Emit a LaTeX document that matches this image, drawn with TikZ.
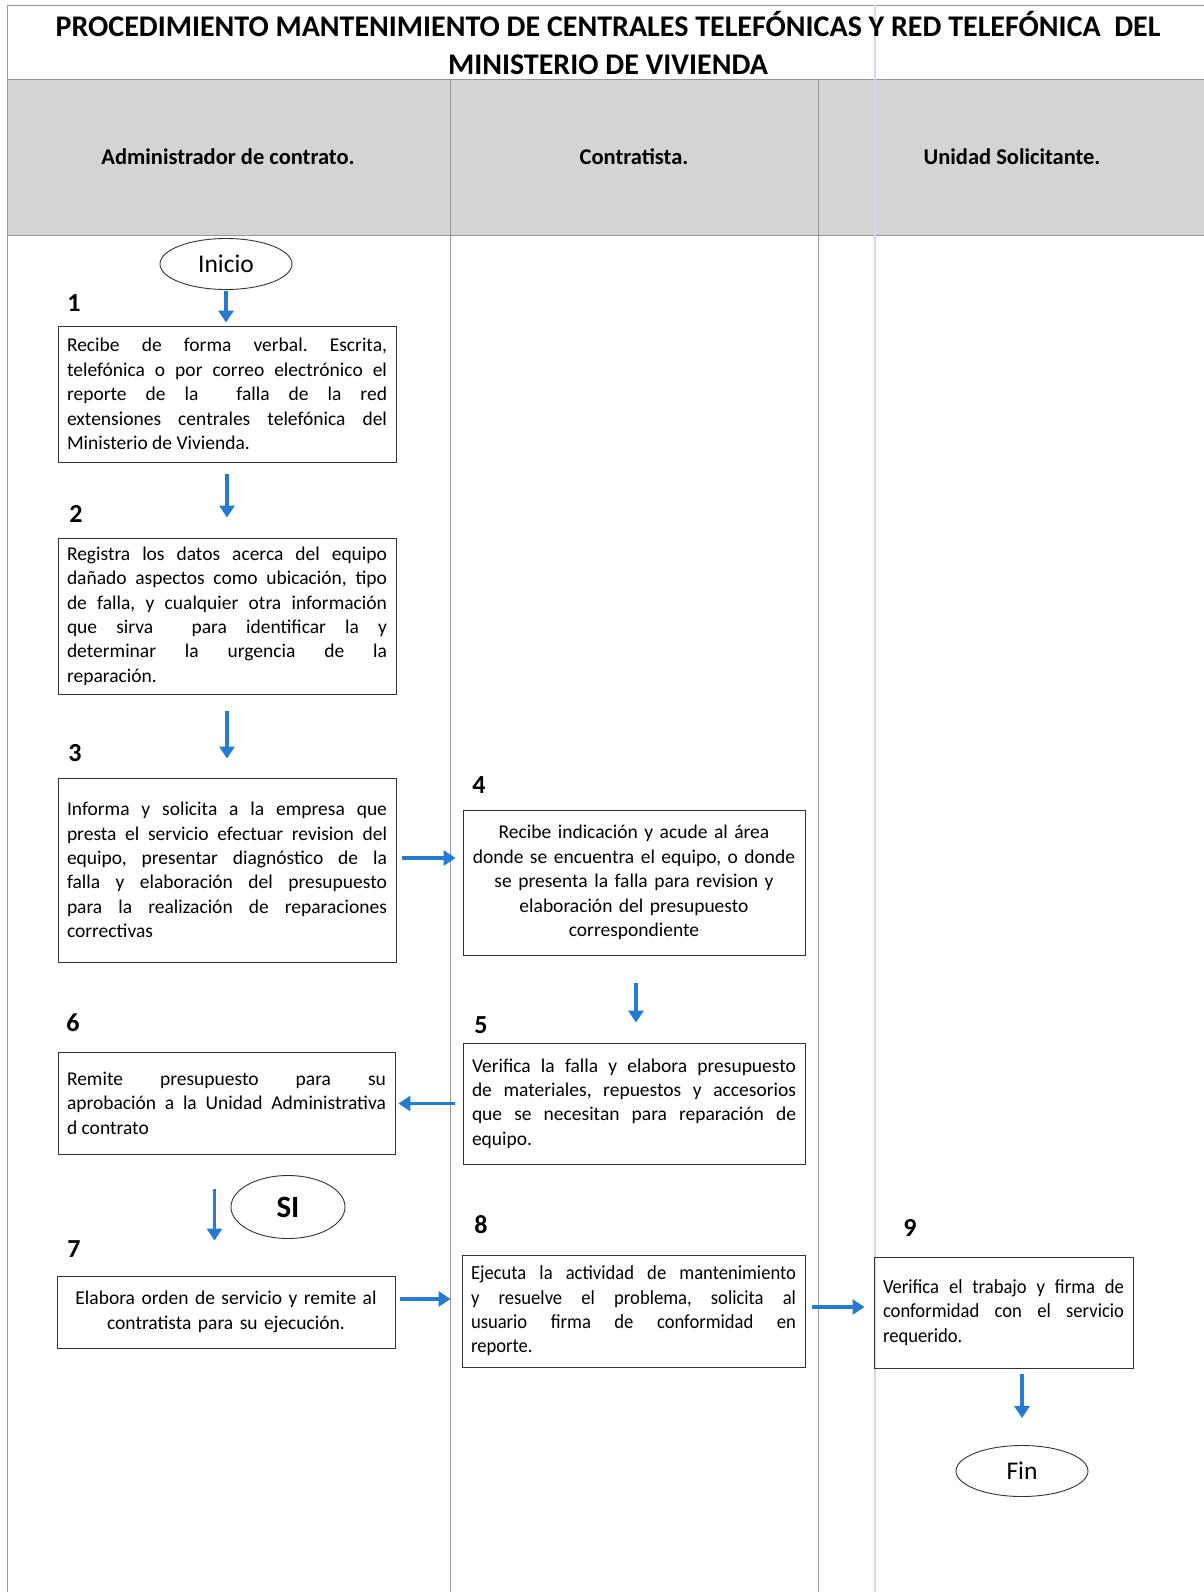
\documentclass[tikz,border=0pt]{standalone}
\usepackage{fontspec}
\setmainfont{Carlito}
\newfontfamily\condfont[FakeStretch=0.93]{Carlito}
\frenchspacing
\usetikzlibrary{shapes.geometric,arrows.meta,calc}
\definecolor{arrblue}{RGB}{38,122,208}
\definecolor{bandgray}{RGB}{212,212,212}
\definecolor{lanegray}{RGB}{150,150,150}
\definecolor{pinkline}{RGB}{228,208,238}
\begin{document}
\begin{tikzpicture}[x=1pt,y=-1pt,
  box/.style={draw=black!80, line width=0.9pt, inner xsep=9pt, inner ysep=3pt,
    font=\frenchspacing\fontsize{19.5}{24.4}\selectfont, align=justify},
  cbox/.style={box, align=center},
  oval/.style={ellipse, draw=black!80, line width=0.9pt, inner sep=0pt,
    minimum width=132pt, minimum height=51pt, font=\fontsize{25.5}{28}\selectfont},
  num/.style={font=\fontsize{26}{28}\selectfont\bfseries},
  lane/.style={font=\fontsize{22.5}{26}\selectfont\bfseries},
  arr/.style={draw=arrblue, line width=3.6pt, -{Triangle[length=12pt,width=15pt]}},
  lanel/.style={draw=lanegray, line width=0.8pt}
]
\useasboundingbox (0,0) rectangle (1204,1592);
\fill[white] (0,0) rectangle (1204,1592);
% header band
\fill[bandgray] (7,79) rectangle (1204,235);
\draw[lanel] (7,5) -- (1204,5);
\draw[lanel] (7,79) -- (1204,79);
\draw[lanel] (7,235) -- (1204,235);
\draw[lanel] (7,5) -- (7,1592);
\draw[lanel] (450,79) -- (450,1592);
\draw[lanel] (818,79) -- (818,1592);
\draw[draw=pinkline, line width=1.2pt] (875,5) -- (875,1592);

\node[font=\fontsize{30}{38}\selectfont\bfseries, align=center] (title) at (608,43)
  {PROCEDIMIENTO MANTENIMIENTO DE CENTRALES TELEFÓNICAS Y RED TELEFÓNICA\ \ DEL\\MINISTERIO DE VIVIENDA};

\node[lane] (l1) at (228,157) {Administrador de contrato.};
\node[lane] (l2) at (634,157) {Contratista.};
\node[lane] (l3) at (1012,157) {Unidad Solicitante.};

% nodes
\node[oval] (inicio) at (226,264) {Inicio};

\node[num] (n1) at (74,303) {1};
\node[box, text width=320pt, minimum width=338pt, minimum height=136pt] (b1) at (227,394)
  {Recibe de forma verbal. Escrita,\linebreak telefónica o por correo electrónico el\linebreak reporte de la\ \ falla de la red\linebreak extensiones centrales telefónica del\linebreak Ministerio de Vivienda.};

\node[num] (n2) at (76,514) {2};
\node[box, text width=320pt, minimum width=338pt, minimum height=156pt] (b2) at (227,616)
  {Registra los datos acerca del equipo\linebreak dañado aspectos como ubicación, tipo\linebreak de falla, y cualquier otra información\linebreak que sirva\ \ para identificar la y\linebreak determinar la urgencia de la\linebreak reparación.};

\node[num] (n3) at (75,753) {3};
\node[box, text width=320pt, minimum width=338pt, minimum height=184pt] (b3) at (227,870)
  {Informa y solicita a la empresa que\linebreak presta el servicio efectuar revision del\linebreak equipo, presentar diagnóstico de la\linebreak falla y elaboración del presupuesto\linebreak para la realización de reparaciones\linebreak correctivas};

\node[num] (n4) at (479,785) {4};
\node[cbox, text width=324pt, minimum width=342pt, minimum height=145pt] (b4) at (634,882.5)
  {Recibe indicación y acude al área\\donde se encuentra el equipo, o donde\\se presenta la falla para revision y\\elaboración del presupuesto\\correspondiente\\[-8pt]};

\node[num] (n5) at (481,1025) {5};
\node[box, text width=324pt, minimum width=342pt, minimum height=121pt] (b5) at (634,1103.5)
  {Verifica la falla y elabora presupuesto\linebreak de materiales, repuestos y accesorios\linebreak que se necesitan para reparación de\linebreak equipo.\par\vspace{10pt}};

\node[num] (n6) at (73,1023) {6};
\node[box, text width=319pt, minimum width=337pt, minimum height=102pt] (b6) at (226.5,1103)
  {Remite presupuesto para su\linebreak aprobación a la Unidad Administrativa\linebreak d contrato\par\vspace{20pt}};

\node[oval, minimum width=114pt, minimum height=63pt, font=\fontsize{31}{34}\selectfont\bfseries] (si) at (288,1207) {SI};

\node[num] (n7) at (74,1249) {7};
\node[cbox, text width=320pt, minimum width=338pt, minimum height=72pt] (b7) at (226,1312)
  {Elabora orden de servicio y remite al\\contratista para su ejecución.};

\node[num] (n8) at (481,1225) {8};
\node[box, text width=325pt, minimum width=343pt, minimum height=112pt, font=\condfont\frenchspacing\fontsize{20}{24.4}\selectfont] (b8) at (633.5,1311)
  {Ejecuta la actividad de mantenimiento\linebreak y resuelve el problema, solicita al\linebreak usuario firma de conformidad en\linebreak reporte.};

\node[num] (n9) at (910,1228) {9};
\node[box, text width=241pt, minimum width=259pt, minimum height=111pt, font=\condfont\frenchspacing\fontsize{20}{24.4}\selectfont] (b9) at (1003.5,1312.5)
  {Verifica el trabajo y firma de\linebreak conformidad con el servicio\linebreak requerido.};

\node[oval] (fin) at (1022,1471) {Fin};

% connectors
\draw[arr, shorten <=1pt, shorten >=3pt] (inicio.south) -- (inicio.south |- b1.north);
\draw[arr, shorten <=12pt, shorten >=20pt] (b1.south) -- (b2.north);
\draw[arr, shorten <=17pt, shorten >=19pt] (b2.south) -- (b3.north);
\coordinate (a34) at ([xshift=6pt,yshift=12pt]b3.east);
\draw[arr, shorten >=7pt] (a34) -- (a34 -| b4.west);
\coordinate (a45) at ([xshift=2pt]b4.south);
\draw[arr, shorten <=28pt, shorten >=20pt] (a45) -- (a45 |- b5.north);
\draw[arr, shorten <=8pt, shorten >=3pt] (b5.west) -- (b5.west -| b6.east);
\coordinate (a67) at ([xshift=-12pt]b6.south);
\draw[arr, shorten <=35pt, shorten >=35pt] (a67) -- (a67 |- b7.north);
\coordinate (a78) at ([xshift=5pt,yshift=13pt]b7.east);
\draw[arr, shorten >=11pt] (a78) -- (a78 -| b8.west);
\coordinate (a89) at ([xshift=7pt,yshift=4pt]b8.east);
\draw[arr, shorten >=9pt] (a89) -- (a89 -| b9.west);
\coordinate (a9f) at (b9.south -| fin.north);
\draw[arr, shorten <=6pt, shorten >=27pt] (a9f) -- (fin.north);
\end{tikzpicture}
\end{document}
